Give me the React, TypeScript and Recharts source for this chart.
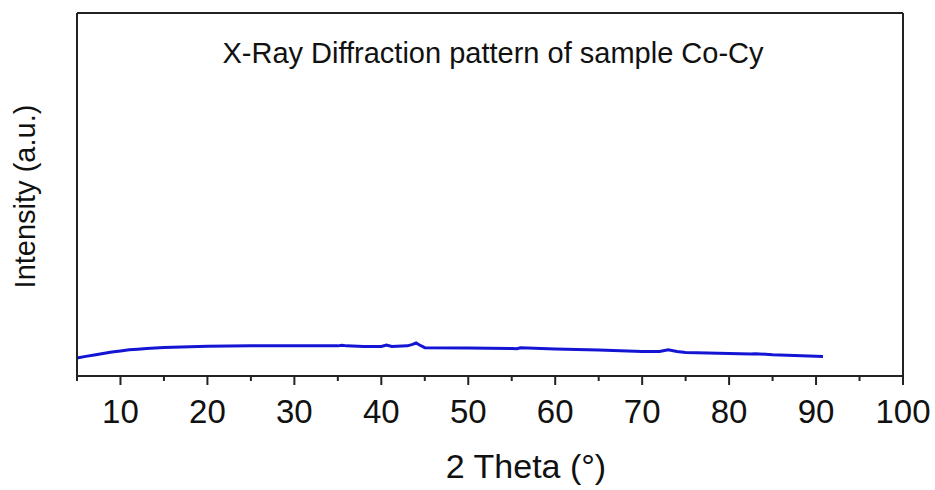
import React from 'react';
import { LineChart, Line, XAxis, YAxis } from 'recharts';

// 2θ positions (degrees)
const twoTheta = [
  5, 6, 7, 8, 9, 10, 11, 12, 13, 14, 15, 17, 20, 25, 30, 35, 35.5, 36, 38, 40,
  40.6, 41.2, 43, 43.6, 44, 44.4, 45, 50, 55, 55.6, 56, 60, 65, 70, 72, 73, 74,
  75, 80, 82.5, 83, 85, 90, 90.8
];

// intensity in arbitrary units (0 = bottom of frame, 100 = top)
const intensity = [
  4.96, 5.4, 5.8, 6.2, 6.6, 6.9, 7.2, 7.4, 7.6, 7.7, 7.85, 8.0, 8.2, 8.3, 8.3,
  8.3, 8.45, 8.3, 8.15, 8.15, 8.55, 8.15, 8.3, 8.7, 9.1, 8.55, 7.8, 7.7, 7.55,
  7.5, 7.75, 7.45, 7.15, 6.75, 6.75, 7.2, 6.75, 6.5, 6.2, 6.05, 6.15, 5.85,
  5.45, 5.35
];

const xTicks = [5, 10, 15, 20, 25, 30, 35, 40, 45, 50, 55, 60, 65, 70, 75, 80, 85, 90, 95, 100];

const data = twoTheta.map((t, i) => ({ t, v: intensity[i] }));

const FONT = '"Liberation Sans", Arial, sans-serif';
const AXIS = '#222';

const XTick = (props: any) => {
  const { x, y, payload } = props;
  const major = payload.value % 10 === 0;
  return (
    <g>
      <line x1={x} y1={y} x2={x} y2={y + (major ? 9 : 5)} stroke={AXIS} strokeWidth={2} />
      {major ? (
        <text x={x} y={y + 47} textAnchor="middle" fontSize={33} fontFamily={FONT} fill="#111">
          {payload.value}
        </text>
      ) : null}
    </g>
  );
};

const App = () => {
  return (
    <div style={{ position: 'absolute', left: 0, top: 0, background: '#fff' }}>
      <LineChart
        width={935}
        height={490}
        data={data}
        margin={{ top: 12, right: 31, left: 76, bottom: 0 }}
      >
        <XAxis
          xAxisId="main"
          dataKey="t"
          type="number"
          domain={[5, 100]}
          ticks={xTicks}
          interval={0}
          height={114}
          tickSize={0}
          tickMargin={0}
          tickLine={false}
          tick={<XTick />}
          axisLine={{ stroke: AXIS, strokeWidth: 2 }}
          label={{
            content: ({ viewBox }: any) => (
              <text
                x={viewBox.x + viewBox.width / 2 + 36}
                y={viewBox.y + 102}
                textAnchor="middle"
                fontSize={34}
                fontFamily={FONT}
                fill="#111"
              >
                2 Theta (°)
              </text>
            )
          }}
        />
        <XAxis
          xAxisId="top"
          orientation="top"
          dataKey="t"
          type="number"
          domain={[5, 100]}
          height={1}
          tick={false}
          tickLine={false}
          axisLine={{ stroke: AXIS, strokeWidth: 2 }}
          label={{
            content: ({ viewBox }: any) => (
              <text
                x={viewBox.x + viewBox.width / 2 + 3}
                y={viewBox.y + 51}
                textAnchor="middle"
                fontSize={29}
                fontFamily={FONT}
                fill="#111"
              >
                X-Ray Diffraction pattern of sample Co-Cy
              </text>
            )
          }}
        />
        <YAxis
          yAxisId="main"
          type="number"
          domain={[0, 100]}
          width={1}
          tick={false}
          tickLine={false}
          axisLine={{ stroke: AXIS, strokeWidth: 2 }}
          label={{
            content: ({ viewBox }: any) => {
              const cx = viewBox.x + viewBox.width - 42;
              const cy = viewBox.y + viewBox.height / 2 + 2;
              return (
                <text
                  x={cx}
                  y={cy}
                  textAnchor="middle"
                  fontSize={29}
                  fontFamily={FONT}
                  fill="#111"
                  transform={`rotate(-90, ${cx}, ${cy})`}
                >
                  Intensity (a.u.)
                </text>
              );
            }
          }}
        />
        <YAxis
          yAxisId="right"
          orientation="right"
          type="number"
          domain={[0, 100]}
          width={1}
          tick={false}
          tickLine={false}
          axisLine={{ stroke: AXIS, strokeWidth: 2 }}
        />
        <Line
          xAxisId="main"
          yAxisId="main"
          dataKey="v"
          type="linear"
          stroke="#1414d4"
          strokeWidth={3}
          dot={false}
          isAnimationActive={false}
        />
      </LineChart>
    </div>
  );
};

export default App;
